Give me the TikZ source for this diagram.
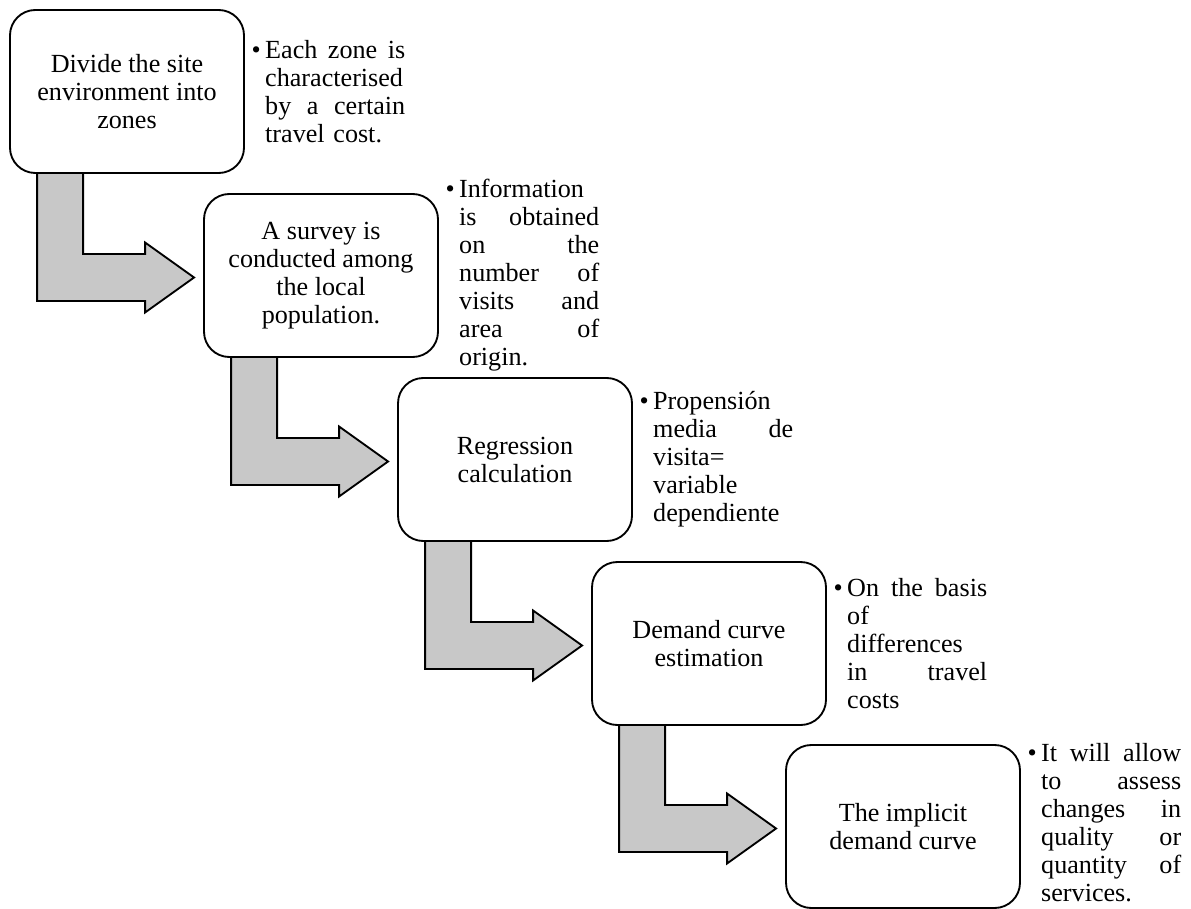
\documentclass[tikz,border=0pt]{standalone}
\usepackage{fontspec}
\setmainfont{Liberation Serif}
\usetikzlibrary{calc}
\pgfdeclarelayer{back}
\pgfsetlayers{back,main}
\definecolor{bendgray}{RGB}{200,200,200}
\newlength\colw
\setlength\colw{105pt}
% a justified line, a last (left-aligned) line, and the hanging bullet
\newcommand\jline[1]{\leavevmode\hbox to\colw{#1}}
\newcommand\lline[1]{\leavevmode\hbox to\colw{#1\hfil}}
\newcommand\bul{\leavevmode\llap{\textbullet\hspace{3.3pt}}}
% bent block arrow from one step box to the next
\newcommand\stepbend[2]{%
  \draw[bentarrow] ($(#1.south west)+(28,-4)$) |- ($(#2.west)+(-58,25.5)$)
    -- ($(#2.west)+(-58,37)$) -- ($(#2.west)+(-9,2)$)
    -- ($(#2.west)+(-58,-33)$) -- ($(#2.west)+(-58,-21.5)$)
    -| ($(#1.south west)+(74,-4)$) -- cycle;}
\begin{document}
\begin{tikzpicture}[x=0.75pt,y=-0.75pt,
  every node/.style={font=\fontsize{19.6pt}{21pt}\selectfont},
  stepbox/.style={draw, line width=1.4pt, fill=white, rounded corners=19pt,
    minimum width=175.5pt, minimum height=122.25pt, inner sep=0pt, align=center},
  note/.style={anchor=west, text width=\colw, align=left, inner sep=0pt},
  bentarrow/.style={draw, line width=1.4pt, fill=bendgray, line join=miter}]
\useasboundingbox (0,0) rectangle (1191,909);

\node[stepbox] (b1) at (127,91.5) {Divide the site\\environment into\\zones};
\node[stepbox] (b2) at (321,275.5) {A survey is\\conducted among\\the local\\population.};
\node[stepbox] (b3) at (515,459.5) {Regression\\calculation};
\node[stepbox] (b4) at (709,643.5) {Demand curve\\estimation};
\node[stepbox] (b5) at (903,826.5) {The implicit\\demand curve};

\node[note] (n1) at ($(b1.east)+(20,0)$) {%
  \bul\jline{Each\hfill zone\hfill is}\\
  \jline{characterised}\\
  \jline{by\hfill a\hfill certain}\\
  \lline{travel cost.}};
\node[note] (n2) at ($(b2.east)+(20,0)$) {%
  \bul\lline{Information}\\
  \jline{is\hfill obtained}\\
  \jline{on\hfill the}\\
  \jline{number\hfill of}\\
  \jline{visits\hfill and}\\
  \jline{area\hfill of}\\
  \lline{origin.}};
\node[note] (n3) at ($(b3.east)+(20,0)$) {%
  \bul\lline{Propensión}\\
  \jline{media\hfill de}\\
  \lline{visita=}\\
  \lline{variable}\\
  \lline{dependiente}};
\node[note] (n4) at ($(b4.east)+(20,0)$) {%
  \bul\jline{On\hfill the\hfill basis}\\
  \lline{of}\\
  \lline{differences}\\
  \jline{in\hfill travel}\\
  \lline{costs}};
\node[note] (n5) at ($(b5.east)+(20,-4)$) {%
  \bul\jline{It\hfill will\hfill allow}\\
  \jline{to\hfill assess}\\
  \jline{changes\hfill in}\\
  \jline{quality\hfill or}\\
  \jline{quantity\hfill of}\\
  \lline{services.}};

\begin{pgfonlayer}{back}
  \stepbend{b1}{b2}
  \stepbend{b2}{b3}
  \stepbend{b3}{b4}
  \stepbend{b4}{b5}
\end{pgfonlayer}
\end{tikzpicture}
\end{document}
